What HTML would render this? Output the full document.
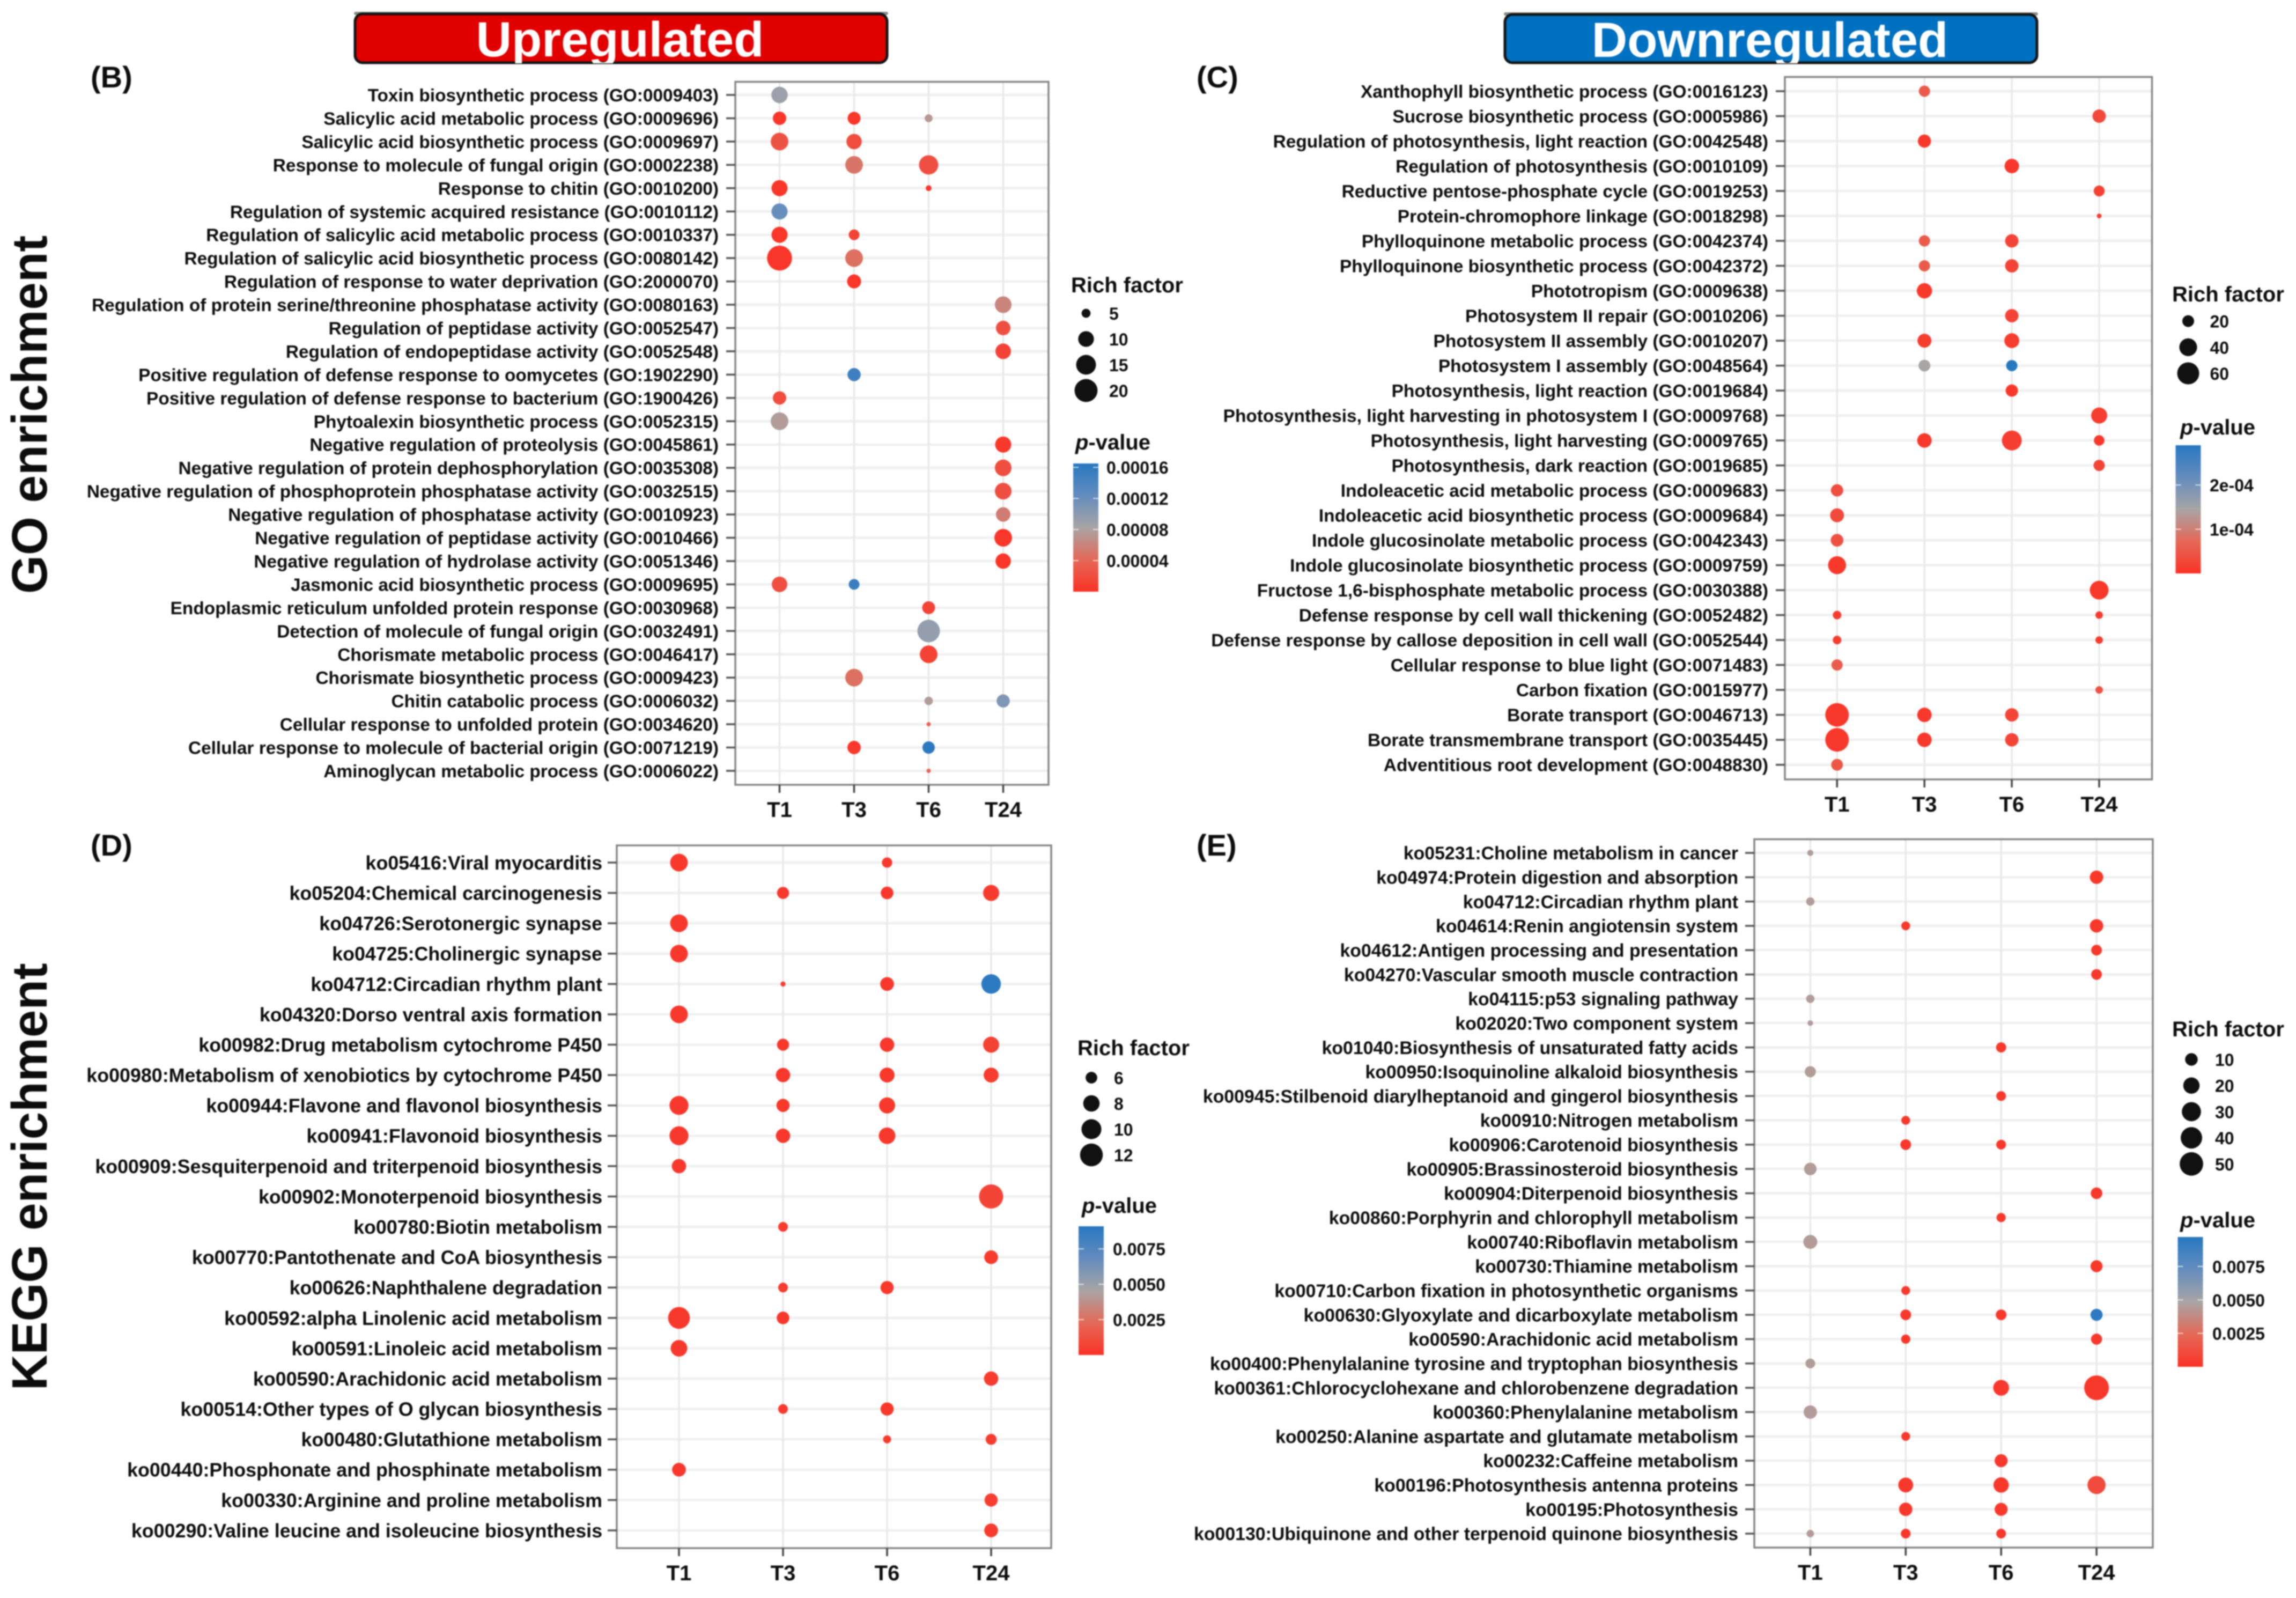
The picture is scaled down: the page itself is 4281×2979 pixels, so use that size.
<!DOCTYPE html>
<html lang="en">
<head>
<meta charset="utf-8">
<title>GO and KEGG enrichment bubble charts</title>
<style>
  html, body { margin: 0; padding: 0; background: #fff; }
  #figure { display: block; filter: blur(1px); }
  text { font-family: "Liberation Sans", sans-serif; font-weight: bold; fill: #0c0c0c; }
</style>
</head>
<body>
<svg id="figure" xmlns="http://www.w3.org/2000/svg" width="4281" height="2979" viewBox="0 0 4281 2979">
  <defs>
    <linearGradient id="pvalue-gradient" x1="0" y1="1" x2="0" y2="0">
      <stop offset="0" stop-color="#fa3226"/>
      <stop offset="0.25" stop-color="#e46958"/>
      <stop offset="0.5" stop-color="#a8a5a5"/>
      <stop offset="0.75" stop-color="#648cbe"/>
      <stop offset="1" stop-color="#2878c0"/>
    </linearGradient>
    <clipPath id="banner-clip"><rect x="0" y="0" width="4281" height="118"/></clipPath>
  </defs>
  <rect x="0" y="0" width="4281" height="2979" fill="#ffffff"/>

  <g>
    <rect x="660" y="22" width="996" height="6" rx="3" fill="#8a8a8a"/>
    <rect x="662" y="26" width="992" height="91" rx="14" fill="#e00000" stroke="#141414" stroke-width="5"/>
    <text x="1156" y="105" text-anchor="middle" font-size="92" style="fill:#ffffff" clip-path="url(#banner-clip)">Upregulated</text>
  </g>
  <g>
    <rect x="2804" y="23" width="996" height="6" rx="3" fill="#8a8a8a"/>
    <rect x="2806" y="27" width="992" height="90" rx="14" fill="#0070c0" stroke="#141414" stroke-width="5"/>
    <text x="3300" y="106" text-anchor="middle" font-size="92" style="fill:#ffffff" clip-path="url(#banner-clip)">Downregulated</text>
  </g>

  <text transform="translate(87,1107) rotate(-90)" font-size="92.5">GO enrichment</text>
  <text transform="translate(87,2592) rotate(-90)" font-size="92.5">KEGG enrichment</text>

  <text x="169" y="163" font-size="56">(B)</text>
  <text x="2231" y="163" font-size="56">(C)</text>
  <text x="169" y="1595" font-size="56">(D)</text>
  <text x="2231" y="1595" font-size="56">(E)</text>

  <g id="charts"></g>
</svg>

<script>
const X = null;
const timepoints = ['T1', 'T3', 'T6', 'T24'];

/* ---------- Panel B: GO enrichment, upregulated ---------- */
const bCategories = [
  'Toxin biosynthetic process (GO:0009403)',
  'Salicylic acid metabolic process (GO:0009696)',
  'Salicylic acid biosynthetic process (GO:0009697)',
  'Response to molecule of fungal origin (GO:0002238)',
  'Response to chitin (GO:0010200)',
  'Regulation of systemic acquired resistance (GO:0010112)',
  'Regulation of salicylic acid metabolic process (GO:0010337)',
  'Regulation of salicylic acid biosynthetic process (GO:0080142)',
  'Regulation of response to water deprivation (GO:2000070)',
  'Regulation of protein serine/threonine phosphatase activity (GO:0080163)',
  'Regulation of peptidase activity (GO:0052547)',
  'Regulation of endopeptidase activity (GO:0052548)',
  'Positive regulation of defense response to oomycetes (GO:1902290)',
  'Positive regulation of defense response to bacterium (GO:1900426)',
  'Phytoalexin biosynthetic process (GO:0052315)',
  'Negative regulation of proteolysis (GO:0045861)',
  'Negative regulation of protein dephosphorylation (GO:0035308)',
  'Negative regulation of phosphoprotein phosphatase activity (GO:0032515)',
  'Negative regulation of phosphatase activity (GO:0010923)',
  'Negative regulation of peptidase activity (GO:0010466)',
  'Negative regulation of hydrolase activity (GO:0051346)',
  'Jasmonic acid biosynthetic process (GO:0009695)',
  'Endoplasmic reticulum unfolded protein response (GO:0030968)',
  'Detection of molecule of fungal origin (GO:0032491)',
  'Chorismate metabolic process (GO:0046417)',
  'Chorismate biosynthetic process (GO:0009423)',
  'Chitin catabolic process (GO:0006032)',
  'Cellular response to unfolded protein (GO:0034620)',
  'Cellular response to molecule of bacterial origin (GO:0071219)',
  'Aminoglycan metabolic process (GO:0006022)'
];
const bRich = [
  [10.7, X, X, X], [7.8, 7.4, 4.6, X], [12.2, 9.6, X, X], [X, 12.2, 14.3, X], [10.4, X, 4.1, X],
  [10.4, X, X, X], [10.4, 5.9, X, X], [23.5, 12.2, X, X], [X, 8.3, X, X], [X, X, X, 11],
  [X, X, X, 8.8], [X, X, X, 9.8], [X, 7.6, X, X], [7.8, X, X, X], [12.2, X, X, X],
  [X, X, X, 10.4], [X, X, X, 11], [X, X, X, 11], [X, X, X, 8.8], [X, X, X, 12.2],
  [X, X, X, 9.6], [9.8, 5.9, X, X], [X, X, 7.4, X], [X, X, 19.2, X], [X, X, 12.2, X],
  [X, 12.2, X, X], [X, X, 4.8, 7.6], [X, X, 4.0, X], [X, 7.8, 7.0, X], [X, X, 4.0, X]
];
const bP = [
  [9e-5, X, X, X], [3e-6, 3e-6, 7.3e-5, X], [2.5e-5, 2e-5, X, X], [X, 5e-5, 2.2e-5, X], [3e-6, X, 3e-6, X],
  [1.22e-4, X, X, X], [3e-6, 1.3e-5, X, X], [3e-6, 4.6e-5, X, X], [X, 3e-6, X, X], [X, X, X, 6e-5],
  [X, X, X, 2.2e-5], [X, X, X, 1.3e-5], [X, 1.5e-4, X, X], [2e-5, X, X, X], [7.6e-5, X, X, X],
  [X, X, X, 5e-6], [X, X, X, 2.2e-5], [X, X, X, 2.2e-5], [X, X, X, 5.4e-5], [X, X, X, 3e-6],
  [X, X, X, 3e-6], [2.2e-5, 1.52e-4, X, X], [X, X, 1.3e-5, X], [X, X, 9.4e-5, X], [X, X, 1.3e-5, X],
  [X, 4.6e-5, X, X], [X, X, 7.6e-5, 1.07e-4], [X, X, 3.6e-5, X], [X, 6e-6, 1.62e-4, X], [X, X, 3.6e-5, X]
];
const bRichBreaks = [5, 10, 15, 20];
const bPTicks = [0.00016, 0.00012, 0.00008, 0.00004];
const bPTickLabels = ['0.00016', '0.00012', '0.00008', '0.00004'];

/* ---------- Panel C: GO enrichment, downregulated ---------- */
const cCategories = [
  'Xanthophyll biosynthetic process (GO:0016123)',
  'Sucrose biosynthetic process (GO:0005986)',
  'Regulation of photosynthesis, light reaction (GO:0042548)',
  'Regulation of photosynthesis (GO:0010109)',
  'Reductive pentose-phosphate cycle (GO:0019253)',
  'Protein-chromophore linkage (GO:0018298)',
  'Phylloquinone metabolic process (GO:0042374)',
  'Phylloquinone biosynthetic process (GO:0042372)',
  'Phototropism (GO:0009638)',
  'Photosystem II repair (GO:0010206)',
  'Photosystem II assembly (GO:0010207)',
  'Photosystem I assembly (GO:0048564)',
  'Photosynthesis, light reaction (GO:0019684)',
  'Photosynthesis, light harvesting in photosystem I (GO:0009768)',
  'Photosynthesis, light harvesting (GO:0009765)',
  'Photosynthesis, dark reaction (GO:0019685)',
  'Indoleacetic acid metabolic process (GO:0009683)',
  'Indoleacetic acid biosynthetic process (GO:0009684)',
  'Indole glucosinolate metabolic process (GO:0042343)',
  'Indole glucosinolate biosynthetic process (GO:0009759)',
  'Fructose 1,6-bisphosphate metabolic process (GO:0030388)',
  'Defense response by cell wall thickening (GO:0052482)',
  'Defense response by callose deposition in cell wall (GO:0052544)',
  'Cellular response to blue light (GO:0071483)',
  'Carbon fixation (GO:0015977)',
  'Borate transport (GO:0046713)',
  'Borate transmembrane transport (GO:0035445)',
  'Adventitious root development (GO:0048830)'
];
const cRich = [
  [X, 18.7, X, X], [X, X, X, 24.4], [X, 23.7, X, X], [X, X, 27.8, X], [X, X, X, 18],
  [X, X, X, 8.8], [X, 18.7, 24.4, X], [X, 18.7, 24.4, X], [X, 30.7, X, X], [X, X, 24.4, X],
  [X, 26, 29.2, X], [X, 20, 18.7, X], [X, X, 21.4, X], [X, X, X, 33.4], [X, 27.8, 49.2, 17],
  [X, X, X, 18.7], [21.4, X, X, X], [26, X, X, X], [22.4, X, X, X], [40.8, X, X, X],
  [X, X, X, 44.3], [13.2, X, X, 11.6], [13.2, X, X, 11.6], [18.7, X, X, X], [X, X, X, 11.6],
  [68.8, 27.8, 24.4, X], [68.8, 27.8, 24.4, X], [20, X, X, X]
];
const cP = [
  [X, 5.4e-5, X, X], [X, X, X, 2.9e-5], [X, 9e-6, X, X], [X, X, 9e-6, X], [X, X, X, 2e-5],
  [X, X, X, 1.5e-5], [X, 5.4e-5, 2.4e-5, X], [X, 5.4e-5, 2.4e-5, X], [X, 9e-6, X, X], [X, X, 2.4e-5, X],
  [X, 1.5e-5, 1.5e-5, X], [X, 1.45e-4, 2.9e-4, X], [X, X, 9e-6, X], [X, X, X, 1.5e-5], [X, 9e-6, 1.5e-5, 9e-6],
  [X, X, X, 2.4e-5], [3.8e-5, X, X, X], [3.2e-5, X, X, X], [4.2e-5, X, X, X], [9e-6, X, X, X],
  [X, X, X, 9e-6], [1.5e-5, X, X, 1.5e-5], [1.5e-5, X, X, 1.5e-5], [5.4e-5, X, X, X], [X, X, X, 4.4e-5],
  [9e-6, 9e-6, 2.4e-5, X], [9e-6, 9e-6, 2.4e-5, X], [5e-5, X, X, X]
];
const cRichBreaks = [20, 40, 60];
const cPTicks = [0.0002, 0.0001];
const cPTickLabels = ['2e-04', '1e-04'];

/* ---------- Panel D: KEGG enrichment, upregulated ---------- */
const dCategories = [
  'ko05416:Viral myocarditis',
  'ko05204:Chemical carcinogenesis',
  'ko04726:Serotonergic synapse',
  'ko04725:Cholinergic synapse',
  'ko04712:Circadian rhythm plant',
  'ko04320:Dorso ventral axis formation',
  'ko00982:Drug metabolism cytochrome P450',
  'ko00980:Metabolism of xenobiotics by cytochrome P450',
  'ko00944:Flavone and flavonol biosynthesis',
  'ko00941:Flavonoid biosynthesis',
  'ko00909:Sesquiterpenoid and triterpenoid biosynthesis',
  'ko00902:Monoterpenoid biosynthesis',
  'ko00780:Biotin metabolism',
  'ko00770:Pantothenate and CoA biosynthesis',
  'ko00626:Naphthalene degradation',
  'ko00592:alpha Linolenic acid metabolism',
  'ko00591:Linoleic acid metabolism',
  'ko00590:Arachidonic acid metabolism',
  'ko00514:Other types of O glycan biosynthesis',
  'ko00480:Glutathione metabolism',
  'ko00440:Phosphonate and phosphinate metabolism',
  'ko00330:Arginine and proline metabolism',
  'ko00290:Valine leucine and isoleucine biosynthesis'
];
const dRich = [
  [8.68, X, 5.6, X], [X, 6.15, 6.36, 7.83], [8.68, X, X, X], [8.68, X, X, X], [X, 4.62, 6.79, 9.74],
  [8.68, X, X, X], [X, 6.15, 7.04, 7.83], [X, 7.04, 7.3, 7.3], [9.4, 6.56, 7.83, X], [9.4, 7.04, 8.1, X],
  [7.04, X, X, X], [X, X, X, 12.98], [X, 5.44, X, X], [X, X, X, 6.79], [X, 5.44, 6.56, X],
  [11.27, 6.36, X, X], [8.1, X, X, X], [X, X, X, 7.04], [X, 5.44, 6.56, X], [X, X, 5.05, 5.78],
  [6.79, X, X, X], [X, X, X, 6.56], [X, X, X, 6.79]
];
const dP = [
  [3e-4, X, 3e-4, X], [X, 3e-4, 3e-4, 4e-4], [3e-4, X, X, X], [3e-4, X, X, X], [X, 5e-4, 3e-4, 8.9e-3],
  [3e-4, X, X, X], [X, 3e-4, 3e-4, 7e-4], [X, 3e-4, 3e-4, 5e-4], [3e-4, 3e-4, 3e-4, X], [3e-4, 3e-4, 3e-4, X],
  [3e-4, X, X, X], [X, X, X, 8e-4], [X, 4e-4, X, X], [X, X, X, 4e-4], [X, 4e-4, 3e-4, X],
  [3e-4, 3e-4, X, X], [3e-4, X, X, X], [X, X, X, 4e-4], [X, 4e-4, 3e-4, X], [X, X, 4e-4, 5e-4],
  [3e-4, X, X, X], [X, X, X, 5e-4], [X, X, X, 4e-4]
];
const dRichBreaks = [6, 8, 10, 12];
const dPTicks = [0.0075, 0.005, 0.0025];
const dPTickLabels = ['0.0075', '0.0050', '0.0025'];

/* ---------- Panel E: KEGG enrichment, downregulated ---------- */
const eCategories = [
  'ko05231:Choline metabolism in cancer',
  'ko04974:Protein digestion and absorption',
  'ko04712:Circadian rhythm plant',
  'ko04614:Renin angiotensin system',
  'ko04612:Antigen processing and presentation',
  'ko04270:Vascular smooth muscle contraction',
  'ko04115:p53 signaling pathway',
  'ko02020:Two component system',
  'ko01040:Biosynthesis of unsaturated fatty acids',
  'ko00950:Isoquinoline alkaloid biosynthesis',
  'ko00945:Stilbenoid diarylheptanoid and gingerol biosynthesis',
  'ko00910:Nitrogen metabolism',
  'ko00906:Carotenoid biosynthesis',
  'ko00905:Brassinosteroid biosynthesis',
  'ko00904:Diterpenoid biosynthesis',
  'ko00860:Porphyrin and chlorophyll metabolism',
  'ko00740:Riboflavin metabolism',
  'ko00730:Thiamine metabolism',
  'ko00710:Carbon fixation in photosynthetic organisms',
  'ko00630:Glyoxylate and dicarboxylate metabolism',
  'ko00590:Arachidonic acid metabolism',
  'ko00400:Phenylalanine tyrosine and tryptophan biosynthesis',
  'ko00361:Chlorocyclohexane and chlorobenzene degradation',
  'ko00360:Phenylalanine metabolism',
  'ko00250:Alanine aspartate and glutamate metabolism',
  'ko00232:Caffeine metabolism',
  'ko00196:Photosynthesis antenna proteins',
  'ko00195:Photosynthesis',
  'ko00130:Ubiquinone and other terpenoid quinone biosynthesis'
];
const eRich = [
  [2.13, X, X, X], [X, X, X, 11.8], [3.52, X, X, X], [X, 4, X, 11.8], [X, X, X, 6.5],
  [X, X, X, 6.5], [3.52, X, X, X], [2.03, X, X, X], [X, X, 5.68, X], [7.2, X, X, X],
  [X, X, 5.09, X], [X, 4, X, X], [X, 6.5, 5.09, X], [9.9, X, X, X], [X, X, X, 8.07],
  [X, X, 4.48, X], [13.1, X, X, X], [X, X, X, 8.9], [X, 4, X, X], [X, 6.5, 6.5, 8.9],
  [X, 4.48, X, 7.2], [5.09, X, X, X], [X, X, 18.3, 56.4], [11.8, X, X, X], [X, 4, X, X],
  [X, X, 10.94, X], [X, 15.67, 16.9, 26.1], [X, 11.8, 10.94, X], [2.79, 5.09, 5.09, X]
];
const eP = [
  [4.5e-3, X, X, X], [X, X, X, 3e-4], [4.5e-3, X, X, X], [X, 3e-4, X, 3e-4], [X, X, X, 3e-4],
  [X, X, X, 3e-4], [4.5e-3, X, X, X], [4.5e-3, X, X, X], [X, X, 3e-4, X], [4.5e-3, X, X, X],
  [X, X, 3e-4, X], [X, 3e-4, X, X], [X, 3e-4, 3e-4, X], [4.5e-3, X, X, X], [X, X, X, 3e-4],
  [X, X, 3e-4, X], [4.5e-3, X, X, X], [X, X, X, 3e-4], [X, 3e-4, X, X], [X, 3e-4, 3e-4, 9.5e-3],
  [X, 3e-4, X, 3e-4], [4.5e-3, X, X, X], [X, X, 3e-4, 3e-4], [4.5e-3, X, X, X], [X, 3e-4, X, X],
  [X, X, 3e-4, X], [X, 3e-4, 3e-4, 1.1e-3], [X, 3e-4, 3e-4, X], [4.5e-3, 3e-4, 3e-4, X]
];
const eRichBreaks = [10, 20, 30, 40, 50];
const ePTicks = [0.0075, 0.005, 0.0025];
const ePTickLabels = ['0.0075', '0.0050', '0.0025'];

/* ---------- Drawing ---------- */
const SVG_NS = 'http://www.w3.org/2000/svg';
const chartsRoot = document.getElementById('charts');

function make(parent, tag, attrs, content) {
  const el = document.createElementNS(SVG_NS, tag);
  for (const key in attrs) el.setAttribute(key, attrs[key]);
  if (content !== undefined) el.textContent = content;
  parent.appendChild(el);
  return el;
}

const rampStops = [[0, 250, 50, 38], [0.25, 228, 105, 88], [0.5, 168, 165, 165], [0.75, 100, 140, 190], [1, 40, 120, 192]];
function pColor(t) {
  const v = Math.max(0, Math.min(1, t));
  for (let i = 1; i < rampStops.length; i++) {
    if (v <= rampStops[i][0]) {
      const a = rampStops[i - 1], b = rampStops[i];
      const f = (v - a[0]) / (b[0] - a[0]);
      return 'rgb(' + [1, 2, 3].map(k => Math.round(a[k] + (b[k] - a[k]) * f)).join(',') + ')';
    }
  }
  return 'rgb(40,120,192)';
}

function drawPanel(cfg) {
  const g = make(chartsRoot, 'g', {});
  
  

  const xScale = i => cfg.x0 + i * cfg.xStep;
  const yScale = i => cfg.y0 + i * (cfg.yLast - cfg.y0) / (cfg.categories.length - 1);
  const sizeScale = v => cfg.sizeA + cfg.sizeB * Math.sqrt(Math.max(0, v - cfg.sizeV0));
  const colorScale = p => pColor(p / cfg.pMax);

  cfg.categories.forEach((label, r) => {
    const grid = make(g, 'line', { x1: cfg.left, x2: cfg.right, y1: yScale(r), y2: yScale(r), stroke: '#f0f0f0', 'stroke-width': 5 });
    
    
  });
  timepoints.forEach((label, c) => {
    const grid = make(g, 'line', { x1: xScale(c), x2: xScale(c), y1: cfg.top, y2: cfg.bottom, stroke: '#e9e9e9', 'stroke-width': 3.5 });
    
    
  });

  const frame = make(g, 'rect', { x: cfg.left, y: cfg.top, width: cfg.right - cfg.left, height: cfg.bottom - cfg.top, fill: 'none', stroke: '#858585', 'stroke-width': 3.5 });
  
  

  cfg.categories.forEach((label, r) => {
    const tick = make(g, 'line', { x1: cfg.left - 17, x2: cfg.left, y1: yScale(r), y2: yScale(r), stroke: '#555555', 'stroke-width': 3.5 });
    
    
    const text = make(g, 'text', { x: cfg.labelRight, y: yScale(r) + cfg.labelFont * 0.36, 'text-anchor': 'end', 'font-size': cfg.labelFont }, label);
    
    
  });

  timepoints.forEach((label, c) => {
    const tick = make(g, 'line', { x1: xScale(c), x2: xScale(c), y1: cfg.bottom, y2: cfg.bottom + 15, stroke: '#444444', 'stroke-width': 3.5 });
    
    
    const text = make(g, 'text', { x: xScale(c), y: cfg.bottom + 60, 'text-anchor': 'middle', 'font-size': 40 }, label);
    
    
  });

  cfg.rich.forEach((row, r) => {
    row.forEach((value, c) => {
      if (value === null) return;
      const dot = make(g, 'circle', { cx: xScale(c), cy: yScale(r), r: sizeScale(value) / 2, fill: colorScale(cfg.p[r][c]) });
      
      
    });
  });

  /* size legend */
  const sizeTitle = make(g, 'text', { x: cfg.legendTitleX, y: cfg.sizeTitleY, 'font-size': 40 }, 'Rich factor');
  
  
  cfg.richBreaks.forEach((value, i) => {
    const y = cfg.sizeKeyY + i * cfg.sizeKeyStep;
    const key = make(g, 'circle', { cx: cfg.sizeKeyX, cy: y, r: sizeScale(value) / 2, fill: '#111111' });
    
    
    const text = make(g, 'text', { x: cfg.sizeLabelX, y: y + 12, 'font-size': 32 }, String(value));
    
    
  });

  /* colour legend */
  const colorTitle = make(g, 'text', { x: cfg.colorTitleX, y: cfg.colorTitleY, 'font-size': 40 });
  
  
  make(colorTitle, 'tspan', { 'font-style': 'italic' }, 'p');
  make(colorTitle, 'tspan', {}, '-value');

  const barBottom = cfg.barZero;
  const pToBar = p => barBottom - (p / cfg.pMax) * (barBottom - cfg.barTop);
  const bar = make(g, 'rect', { x: cfg.barX, y: cfg.barTop, width: 47, height: barBottom - cfg.barTop, fill: 'url(#pvalue-gradient)' });
  
  
  cfg.pTicks.forEach((value, i) => {
    const y = pToBar(value);
    const left = make(g, 'line', { x1: cfg.barX, x2: cfg.barX + 10, y1: y, y2: y, stroke: '#ffffff', 'stroke-opacity': 0.7, 'stroke-width': 2 });
    
    
    const right = make(g, 'line', { x1: cfg.barX + 37, x2: cfg.barX + 47, y1: y, y2: y, stroke: '#ffffff', 'stroke-opacity': 0.7, 'stroke-width': 2 });
    
    
    const text = make(g, 'text', { x: cfg.barLabelX, y: y + 12, 'font-size': 32 }, cfg.pTickLabels[i]);
    
    
  });
}

drawPanel({
  categories: bCategories, rich: bRich, p: bP, richBreaks: bRichBreaks, pTicks: bPTicks, pTickLabels: bPTickLabels,
  left: 1371, right: 1955, top: 152.5, bottom: 1463,
  x0: 1453.5, xStep: 139, y0: 177, yLast: 1437, labelRight: 1340, labelFont: 33.4,
  sizeA: 8, sizeB: 8.72, sizeV0: 4, pMax: 0.000165,
  legendTitleX: 1997, sizeTitleY: 545, sizeKeyX: 2025, sizeKeyY: 584, sizeKeyStep: 48, sizeLabelX: 2068,
  colorTitleX: 2005, colorTitleY: 838, barX: 2001, barTop: 864, barZero: 1103, barLabelX: 2063
});

drawPanel({
  categories: cCategories, rich: cRich, p: cP, richBreaks: cRichBreaks, pTicks: cPTicks, pTickLabels: cPTickLabels,
  left: 3328, right: 4012.5, top: 143.5, bottom: 1453,
  x0: 3425.3, xStep: 162.9, y0: 170, yLast: 1425.7, labelRight: 3297, labelFont: 33.45,
  sizeA: 4.4, sizeB: 5.08, sizeV0: 8, pMax: 0.00029,
  legendTitleX: 4050, sizeTitleY: 562, sizeKeyX: 4080, sizeKeyY: 598.6, sizeKeyStep: 48.7, sizeLabelX: 4120.5,
  colorTitleX: 4065, colorTitleY: 810, barX: 4056.5, barTop: 830, barZero: 1069, barLabelX: 4120
});

drawPanel({
  categories: dCategories, rich: dRich, p: dP, richBreaks: dRichBreaks, pTicks: dPTicks, pTickLabels: dPTickLabels,
  left: 1150, right: 1960, top: 1576, bottom: 2886,
  x0: 1266, xStep: 194, y0: 1608, yLast: 2853, labelRight: 1123, labelFont: 35.85,
  sizeA: 4.8, sizeB: 13.8, sizeV0: 4.5, pMax: 0.0091,
  legendTitleX: 2009, sizeTitleY: 1967, sizeKeyX: 2035, sizeKeyY: 2009, sizeKeyStep: 48, sizeLabelX: 2077,
  colorTitleX: 2017, colorTitleY: 2261, barX: 2011, barTop: 2286, barZero: 2526, barLabelX: 2075
});

drawPanel({
  categories: eCategories, rich: eRich, p: eP, richBreaks: eRichBreaks, pTicks: ePTicks, pTickLabels: ePTickLabels,
  left: 3271, right: 4014, top: 1564.5, bottom: 2885,
  x0: 3375.4, xStep: 177.9, y0: 1590, yLast: 2859, labelRight: 3241, labelFont: 33.85,
  sizeA: 9.5, sizeB: 4.95, sizeV0: 2, pMax: 0.0097,
  legendTitleX: 4050, sizeTitleY: 1932, sizeKeyX: 4086, sizeKeyY: 1975, sizeKeyStep: 48.7, sizeLabelX: 4130,
  colorTitleX: 4065, colorTitleY: 2288, barX: 4060.5, barTop: 2306, barZero: 2548, barLabelX: 4125
});
</script>
</body>
</html>
